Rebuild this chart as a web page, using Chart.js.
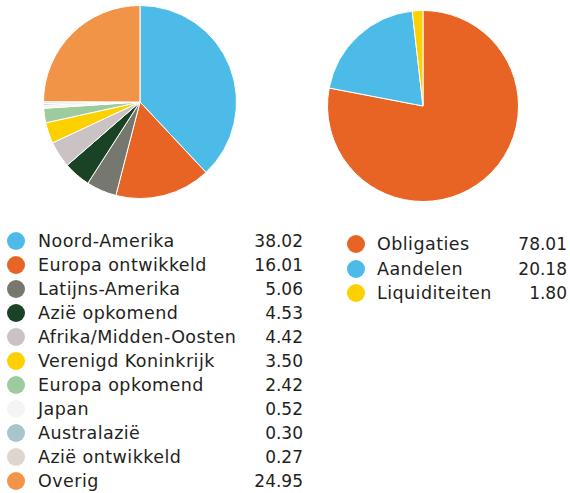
<!DOCTYPE html>
<html>
<head>
<meta charset="utf-8">
<script src="https://cdn.jsdelivr.net/npm/chart.js@4"></script>
<style>
  html,body{margin:0;padding:0;background:#fff;width:570px;height:493px;overflow:hidden;}
  body{position:relative;font-family:"DejaVu Sans",sans-serif;color:#231f20;}
  .cv{position:absolute;}
  .legend{position:absolute;}
  .row{position:absolute;left:0;height:24px;white-space:nowrap;font-size:17.5px;line-height:24px;}
  .dot{position:absolute;top:3px;width:18px;height:18px;border-radius:50%;}
  .lab{position:absolute;letter-spacing:0.45px;}
  .val{position:absolute;text-align:right;font-size:17px;}
</style>
</head>
<body>
<div class="cv" style="left:43px;top:5px;width:194px;height:194px;"><canvas id="c1"></canvas></div>
<div class="cv" style="left:327px;top:10px;width:192px;height:192px;"><canvas id="c2"></canvas></div>
<div id="leg1" class="legend" style="left:0;top:229px;"></div>
<div id="leg2" class="legend" style="left:0;top:232px;"></div>
<script>
const regionLabels = ["Noord-Amerika","Europa ontwikkeld","Latijns-Amerika","Azië opkomend","Afrika/Midden-Oosten","Verenigd Koninkrijk","Europa opkomend","Japan","Australazië","Azië ontwikkeld","Overig"];
const regionValues = [38.02,16.01,5.06,4.53,4.42,3.50,2.42,0.52,0.30,0.27,24.95];
const regionColors = ["#4dbbe8","#e86424","#76776e","#1a4326","#cbc3c3","#fdd100","#9dcb9d","#f4f4f4","#a9c5cc","#ddd6cc","#f29447"];

const assetLabels = ["Obligaties","Aandelen","Liquiditeiten"];
const assetValues = [78.01,20.18,1.80];
const assetColors = ["#e86424","#4dbbe8","#fdd100"];

function makePie(id, labels, values, colors){
  new Chart(document.getElementById(id), {
    type:'pie',
    data:{labels:labels, datasets:[{data:values, backgroundColor:colors, borderColor:'#ffffff', borderWidth:1}]},
    options:{responsive:true, maintainAspectRatio:false, animation:false,
      layout:{padding:0},
      plugins:{legend:{display:false}, tooltip:{enabled:false}}}
  });
}
makePie('c1', regionLabels, regionValues, regionColors);
makePie('c2', assetLabels, assetValues, assetColors);

function makeLegend(id, labels, values, colors, dotX, labX, valRight, step){
  const el = document.getElementById(id);
  labels.forEach((l,i)=>{
    const r = document.createElement('div');
    r.className='row'; r.style.top=(i*step)+'px';
    r.innerHTML = '<span class="dot" style="left:'+(dotX-9)+'px;background:'+colors[i]+'"></span>'+
      '<span class="lab" style="left:'+labX+'px">'+l+'</span>'+
      '<span class="val" style="left:'+(valRight-60)+'px;width:60px">'+values[i].toFixed(2)+'</span>';
    el.appendChild(r);
  });
}
makeLegend('leg1', regionLabels, regionValues, regionColors, 16, 38, 303, 24);
makeLegend('leg2', assetLabels, assetValues, assetColors, 356, 377, 567, 24.5);
</script>
</body>
</html>
